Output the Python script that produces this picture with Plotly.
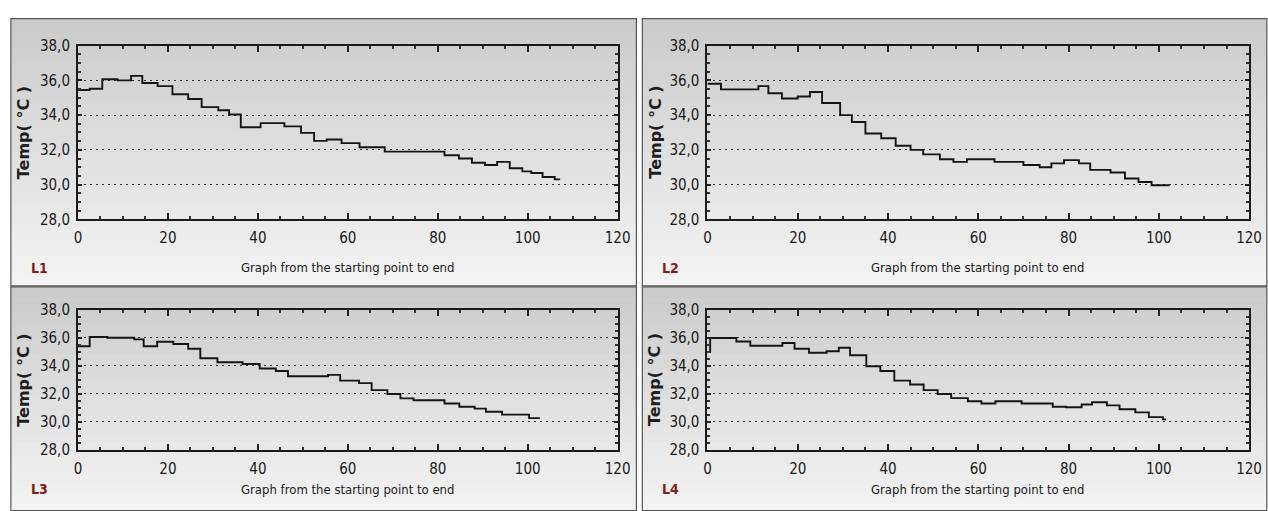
import plotly.graph_objects as go

W, H = 1268, 511

# ---------------- data ----------------
L1_x = [0, 2.6, 5.4, 8.8, 11.8, 14.3, 17.7, 21.0, 24.5, 27.5, 31.2, 33.6, 36.2, 40.6, 45.9,
        49.6, 52.5, 55.3, 58.6, 62.6, 68.2, 81.5, 84.7, 87.6, 90.5, 93.2, 96.0, 98.8,
        100.8, 103.3, 106.0, 107.0]
L1_y = [35.45, 35.52, 36.07, 36.0, 36.26, 35.85, 35.67, 35.2, 34.93, 34.46, 34.28, 34.04,
        33.3, 33.54, 33.35, 32.98, 32.52, 32.6, 32.39, 32.15, 31.9, 31.69, 31.5, 31.26,
        31.13, 31.31, 30.94, 30.76, 30.67, 30.44, 30.3, 30.26]

L2_x = [0, 3.0, 11.3, 13.5, 16.5, 20.0, 22.7, 25.4, 29.4, 32.0, 35.0, 38.5, 41.7, 45.0,
        47.8, 51.5, 54.5, 57.5, 63.6, 70.0, 73.6, 76.2, 79.0, 82.3, 84.8, 89.3, 92.5,
        95.5, 98.4, 102.4]
L2_y = [35.81, 35.48, 35.67, 35.26, 34.96, 35.07, 35.33, 34.7, 34.0, 33.6, 32.94, 32.67,
        32.24, 32.0, 31.74, 31.46, 31.31, 31.46, 31.31, 31.13, 31.0, 31.22, 31.41, 31.22,
        30.85, 30.7, 30.35, 30.15, 29.96, 29.96]

L3_x = [0, 2.6, 6.5, 12.5, 14.6, 17.6, 21.2, 24.5, 27.2, 31.0, 36.6, 40.4, 44.0, 46.7,
        55.6, 58.3, 62.5, 65.3, 68.8, 71.7, 74.6, 81.5, 84.8, 88.2, 90.7, 94.3, 100.3, 102.7]
L3_y = [35.41, 36.07, 36.02, 35.9, 35.41, 35.73, 35.57, 35.23, 34.55, 34.27, 34.14, 33.82,
        33.64, 33.27, 33.36, 32.95, 32.77, 32.27, 32.0, 31.68, 31.55, 31.32, 31.09, 30.95,
        30.73, 30.52, 30.27, 30.27]

L4_x = [0, 0.6, 6.4, 9.5, 16.6, 19.3, 22.5, 26.4, 29.1, 31.6, 35.2, 38.3, 41.4, 44.9, 47.9,
        51.0, 54.0, 57.7, 60.7, 63.8, 69.6, 76.5, 79.4, 82.9, 85.2, 88.5, 91.3, 94.8, 97.8,
        100.9, 101.6]
L4_y = [35.0, 36.0, 35.75, 35.45, 35.64, 35.23, 34.95, 35.05, 35.3, 34.77, 33.98, 33.64,
        32.95, 32.68, 32.27, 32.0, 31.7, 31.48, 31.32, 31.48, 31.32, 31.09, 31.05, 31.25,
        31.41, 31.18, 30.91, 30.68, 30.34, 30.18, 30.18]

series_x = [L1_x, L2_x, L3_x, L4_x]
series_y = [L1_y, L2_y, L3_y, L4_y]
panel_labels = ["L1", "L2", "L3", "L4"]

x_tick_vals = [0, 20, 40, 60, 80, 100, 120]
x_tick_text = ["0", "20", "40", "60", "80", "100", "120"]
y_tick_vals = [28, 30, 32, 34, 36, 38]
y_tick_text = ["28,0", "30,0", "32,0", "34,0", "36,0", "38,0"]
x_title = "Graph from the starting point to end"
y_title = "Temp( °C )"

# ---------------- layout geometry (page pixels) ----------------
def fx(p):
    return p / W


def fy(p):
    return 1 - p / H


def clamp(v):
    return max(0.0, min(1.0, v))


panels = [
    dict(plot=(75, 622, 38, 218), frame=(7, 641, 10, 287), label_y=268, ytitle_x=20, lab_x=36, xt_x=348),
    dict(plot=(713, 1262, 38, 218), frame=(647, 1280, 10, 287), label_y=268, ytitle_x=660, lab_x=676, xt_x=987),
    dict(plot=(75, 622, 312, 457), frame=(7, 641, 288, 520), label_y=498, ytitle_x=20, lab_x=36, xt_x=348),
    dict(plot=(713, 1262, 312, 457), frame=(647, 1280, 288, 520), label_y=498, ytitle_x=660, lab_x=676, xt_x=987),
]

NARROW = "DejaVu Sans Condensed, Liberation Sans Narrow, sans-serif"
TICK_FONT = dict(family=NARROW, size=15, color="#1a1a1a")
TITLE_FONT = dict(family=NARROW, size=13, color="#1a1a1a")

fig = go.Figure()
shapes = []
annotations = []


def gray(v):
    v = int(round(v))
    return f"rgb({v},{v},{v})"


for i, p in enumerate(panels):
    n = i + 1
    sx = "" if n == 1 else str(n)
    l, r, t, b = p["plot"]
    fl, fr, ft, fb = p["frame"]

    nb = 36
    for k in range(nb):
        y0 = ft + (fb - ft) * k / nb
        y1 = ft + (fb - ft) * (k + 1) / nb
        v = 203 + (243 - 203) * k / (nb - 1)
        shapes.append(dict(type="rect", xref="paper", yref="paper", layer="below",
                           x0=fx(fl), x1=fx(fr), y0=fy(y1 + 0.6), y1=fy(y0),
                           fillcolor=gray(v), line=dict(width=0)))
    shapes.append(dict(type="rect", xref="paper", yref="paper", layer="below",
                       x0=fx(fl), x1=fx(fr), y0=fy(fb), y1=fy(ft),
                       fillcolor="rgba(0,0,0,0)", line=dict(color="#555", width=1.2)))

    fig.add_trace(go.Scatter(x=series_x[i], y=series_y[i], mode="lines", line_shape="hv",
                             line=dict(color="#141414", width=1.9),
                             xaxis="x" + sx, yaxis="y" + sx, showlegend=False, hoverinfo="skip"))

    xa = dict(domain=[clamp(fx(l)), clamp(fx(r))], range=[0, 120], anchor="y" + sx,
              tickvals=x_tick_vals, ticktext=x_tick_text, ticks="inside", ticklen=6,
              tickwidth=1.5, tickcolor="#222", showline=True, linecolor="#1a1a1a", linewidth=2,
              mirror="ticks", showgrid=False, zeroline=False, tickfont=TICK_FONT,
              ticklabelstandoff=4,
              minor=dict(dtick=5, ticks="inside", ticklen=3, tickcolor="#333", showgrid=False))
    ya = dict(domain=[clamp(fy(b)), clamp(fy(t))], range=[28, 38], anchor="x" + sx,
              tickvals=y_tick_vals, ticktext=y_tick_text, ticks="inside", ticklen=4,
              tickwidth=1.5, tickcolor="#222", showline=True, linecolor="#1a1a1a", linewidth=2,
              mirror="ticks", showgrid=True, gridcolor="#2a2a2a", gridwidth=1.3,
              griddash="2px,4px", zeroline=False, tickfont=TICK_FONT,
              ticklabelstandoff=3,
              minor=dict(dtick=0.5, ticks="inside", ticklen=3, tickcolor="#333", showgrid=False))
    fig.layout["xaxis" + sx] = xa
    fig.layout["yaxis" + sx] = ya

    annotations.append(dict(text="<b>" + y_title + "</b>", xref="paper", yref="paper",
                            x=fx(p["ytitle_x"]), y=fy((t + b) / 2), textangle=-90,
                            showarrow=False, xanchor="center", yanchor="middle",
                            font=dict(family="DejaVu Sans, sans-serif", size=16, color="#1e1e1e")))
    annotations.append(dict(text=x_title, xref="paper", yref="paper",
                            x=fx(p["xt_x"]), y=fy(p["label_y"]), showarrow=False,
                            xanchor="center", yanchor="middle", font=TITLE_FONT))
    annotations.append(dict(text="<b>" + panel_labels[i] + "</b>", xref="paper", yref="paper",
                            x=fx(p["lab_x"]), y=fy(p["label_y"]), showarrow=False,
                            xanchor="center", yanchor="middle",
                            font=dict(family=NARROW, size=14, color="#8b1a1a")))

fig.update_layout(width=W, height=H, margin=dict(l=0, r=0, t=0, b=0),
                  paper_bgcolor="white", plot_bgcolor="rgba(0,0,0,0)",
                  shapes=shapes, annotations=annotations, showlegend=False)

fig.write_html("out.html", config={"displayModeBar": False},
               post_script="document.body.style.margin='0';document.body.style.overflow='hidden';")
